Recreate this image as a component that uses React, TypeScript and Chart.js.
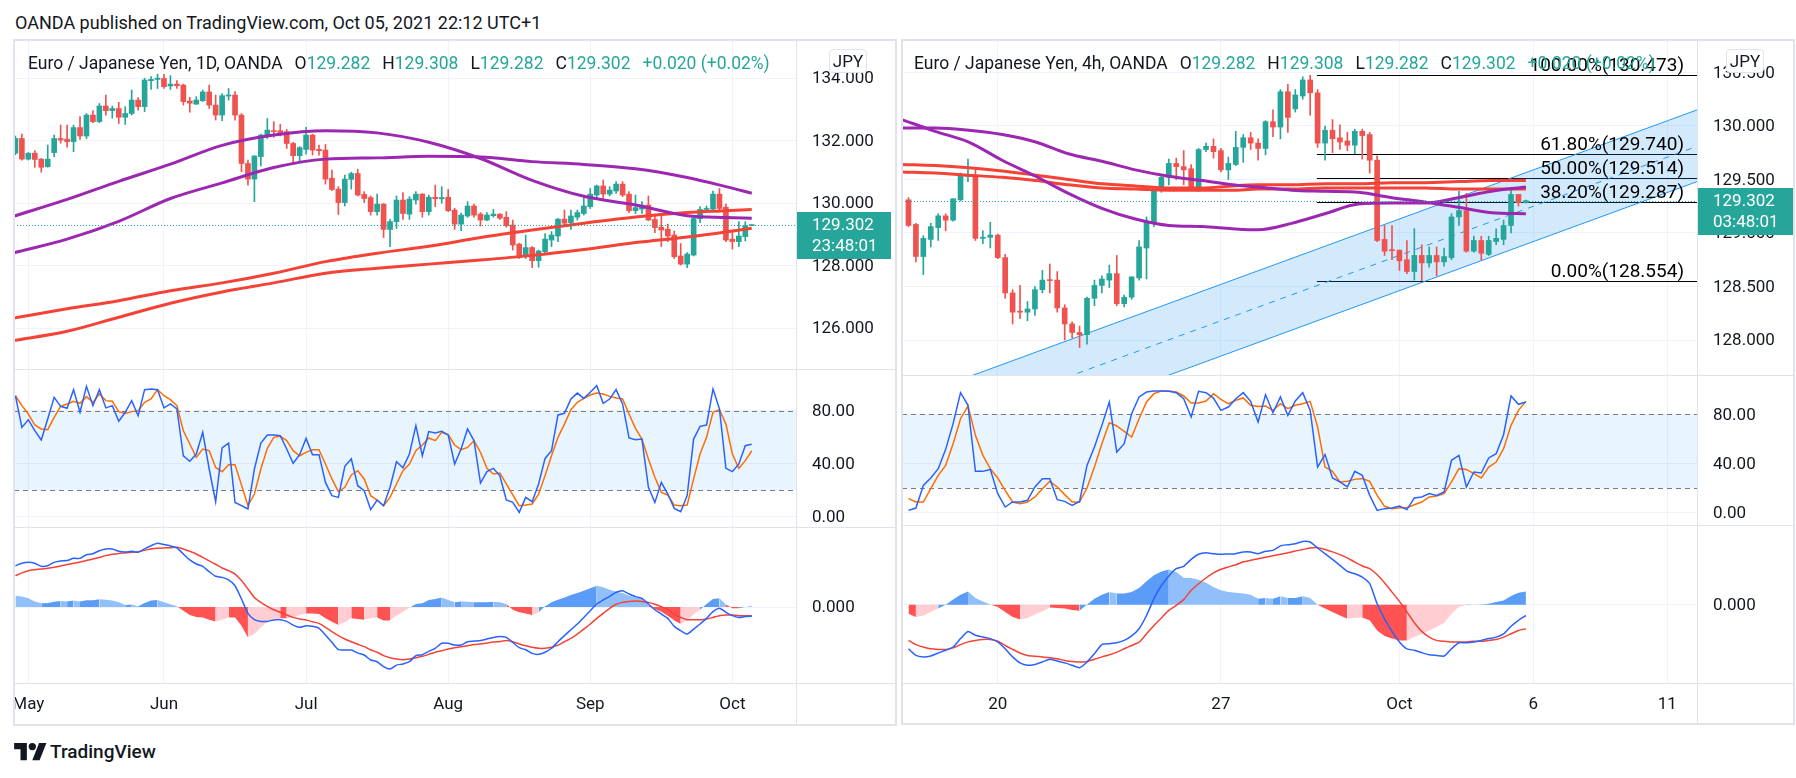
import React, { useEffect, useRef } from "react";
import { Chart, registerables } from "chart.js";

Chart.register(...registerables);

const FONT = "Roboto, 'Noto Sans', 'DejaVu Sans', sans-serif";
const TEXT = "#131722";
const UP = "#26a69a";
const DOWN = "#ef5350";
const GRID = "#f0f3fa";
const FRAME = "#e0e3eb";
const PURPLE = "#9c27b0";
const MA_RED = "#f44336";
const K_BLUE = "#2962ff";
const D_ORANGE = "#ff6d00";
const SIG_RED = "#f44336";
const HIST_UP_STRONG = "#5b9cf6";
const HIST_UP_WEAK = "#90bff9";
const HIST_DN_STRONG = "#ff5252";
const HIST_DN_WEAK = "#ffcdd2";

// ---------------- Daily (1D) data ----------------
const dailyTickIdx = [2, 23, 45, 67, 89, 111];
const dailyTickLabels = ["May", "Jun", "Jul", "Aug", "Sep", "Oct"];
const dailyPriceTicks = [126, 128, 130, 132, 134];

const dailyOpen = [131.60,132.07,131.41,131.60,131.41,131.17,131.62,132.07,132.05,131.97,
132.42,132.15,132.82,132.61,133.11,132.96,133.03,132.75,132.87,133.30,
133.09,133.92,133.96,133.99,133.75,133.81,133.78,133.27,133.17,133.28,
133.56,133.14,132.82,133.43,133.46,132.82,131.27,130.77,131.49,132.18,
132.32,132.32,132.29,131.91,131.52,131.72,132.18,131.72,131.70,130.80,
130.45,130.02,130.76,130.95,130.28,130.18,129.73,129.97,129.16,129.41,
130.10,129.65,130.10,130.29,129.73,130.19,130.14,130.19,129.78,129.33,
129.59,129.91,129.65,129.46,129.60,129.65,129.55,129.30,128.69,128.29,
128.58,128.16,128.45,128.82,128.95,129.49,129.38,129.55,129.67,129.89,
130.26,130.55,130.29,130.39,130.61,130.29,129.76,129.81,129.94,129.48,
129.23,129.17,128.98,128.31,128.05,128.34,129.50,129.80,129.81,130.29,
129.87,128.85,128.77,128.93,129.282];
const dailyHigh = [132.15,132.21,131.62,131.68,131.43,131.86,132.18,132.50,132.50,132.50,
132.77,132.87,132.96,133.19,133.46,133.11,133.23,133.09,133.62,133.38,
134.00,134.05,134.13,134.12,134.08,133.92,133.81,133.39,133.41,133.62,
133.78,133.46,133.51,133.67,133.57,132.87,131.38,131.52,132.21,132.71,
132.61,132.52,132.36,131.95,131.81,132.43,132.21,131.86,131.88,131.06,
130.53,130.90,130.99,131.09,130.37,130.23,130.29,129.99,129.48,130.23,
130.34,130.21,130.37,130.31,130.26,130.58,130.53,130.44,129.84,129.68,
130.05,129.97,129.70,129.70,129.80,129.67,129.73,129.46,128.72,128.98,
128.61,128.50,129.03,129.09,129.51,129.78,129.78,129.78,130.18,130.47,
130.58,130.74,130.53,130.69,130.69,130.37,130.26,130.05,130.23,129.65,
129.65,129.33,129.11,128.71,128.42,129.59,129.89,129.91,130.39,130.47,
129.97,129.09,129.41,129.41,129.308];
const dailyLow = [131.55,131.38,131.38,131.15,130.99,131.15,131.49,131.92,131.79,131.65,
132.04,132.07,132.58,132.58,132.82,132.72,132.55,132.52,132.82,132.98,
132.93,133.64,133.67,133.67,133.64,133.67,133.14,132.91,133.16,133.25,
133.03,132.66,132.64,133.30,132.66,131.01,130.58,130.05,131.19,132.07,
132.11,132.15,131.75,131.24,131.31,131.57,131.54,131.54,130.61,130.40,
129.64,129.91,130.45,130.23,130.02,129.62,129.62,128.90,128.61,129.19,
129.48,129.48,129.97,129.55,129.62,129.89,130.00,129.73,129.16,129.12,
129.55,129.55,129.27,129.44,129.55,129.48,129.23,128.50,128.23,128.23,
127.94,127.95,128.37,128.61,128.77,129.30,129.16,129.46,129.62,129.83,
130.15,130.15,130.23,130.31,130.21,129.70,129.67,129.67,129.44,129.06,
128.61,128.77,128.23,128.02,127.94,128.31,129.38,129.70,129.78,129.78,
128.77,128.53,128.61,128.79,129.282];
const dailyClose = [132.07,131.41,131.60,131.40,131.15,131.41,132.07,132.02,131.97,132.42,
132.15,132.82,132.61,133.11,132.96,133.03,132.75,132.87,133.30,133.09,
133.94,133.96,134.00,133.73,133.81,133.76,133.25,133.20,133.30,133.56,
133.14,132.82,133.44,133.46,132.82,131.27,130.77,131.51,132.18,132.34,
132.29,132.26,131.91,131.52,131.78,132.18,131.70,131.68,130.77,130.44,
130.02,130.77,130.95,130.26,130.15,129.73,129.97,129.16,129.41,130.10,
129.67,130.13,130.29,129.73,130.19,130.14,130.18,129.76,129.33,129.62,
129.91,129.62,129.46,129.62,129.65,129.52,129.28,128.66,128.29,128.58,
128.16,128.47,128.85,128.98,129.49,129.36,129.59,129.70,129.91,130.29,
130.55,130.29,130.42,130.61,130.26,129.76,129.86,129.94,129.46,129.22,
129.14,128.95,128.29,128.05,128.37,129.51,129.80,129.83,130.29,129.83,
128.82,128.77,128.95,129.282,129.302];

const dailyMaIdx = [-0.3, 8, 16, 24, 32, 40, 48, 56, 64, 72, 80, 88, 96, 104, 110, 114];
const dailyMaPurpleA = [129.58,130.12,130.70,131.25,131.85,132.18,132.32,132.25,131.95,131.43,130.73,130.22,129.94,129.60,129.54,129.52];
const dailyMaPurpleB = [128.41,128.85,129.42,130.15,130.65,131.14,131.41,131.45,131.50,131.48,131.33,131.24,131.10,130.82,130.53,130.32];
const dailyMaRedA = [126.32,126.62,126.88,127.20,127.45,127.76,128.13,128.40,128.62,128.90,129.14,129.36,129.56,129.70,129.76,129.80];
const dailyMaRedB = [125.60,125.90,126.35,126.80,127.16,127.45,127.76,127.92,128.05,128.18,128.33,128.52,128.74,128.92,129.08,129.20];

const dailyStochK = [91.3,67.4,73.2,64.9,57.9,73.7,90.1,83.3,81.8,95.9,
78.8,98.4,83.8,95.9,82.1,83.8,72.0,78.8,87.6,76.2,
95.9,96.4,95.9,82.1,85.1,81.3,46.0,41.8,47.3,63.7,
36.0,11.3,51.9,55.6,10.8,8.3,5.8,36.0,55.6,61.7,
61.7,61.2,51.1,40.3,46.8,59.1,46.8,46.8,25.9,15.9,
14.6,38.0,43.6,23.4,19.6,5.3,12.6,8.3,22.2,41.5,
37.0,47.3,68.7,46.0,64.2,63.2,64.4,61.7,39.8,51.1,
66.2,57.4,25.4,34.0,36.5,30.9,12.6,10.8,3.3,14.6,
11.3,24.7,44.0,49.8,76.8,78.0,88.8,93.3,89.3,93.9,
98.9,85.6,88.8,95.9,85.1,59.4,58.1,58.6,22.2,10.8,
25.9,17.1,6.3,3.8,15.9,58.6,68.2,69.2,96.4,81.3,
36.5,34.0,39.8,53.6,54.6];
const dailyStochD = [91.3,83.8,77.5,69.2,66.2,65.7,75.0,83.3,85.1,87.1,
85.6,90.6,86.3,92.6,87.6,87.1,79.3,78.0,79.3,80.0,
86.3,88.8,95.9,91.3,88.3,83.8,64.9,54.9,44.8,51.1,
49.8,37.2,34.0,39.3,39.3,23.9,8.3,17.1,36.0,51.6,
59.9,60.7,57.4,49.8,46.0,48.6,50.6,50.6,39.8,28.5,
18.9,22.2,31.5,34.7,28.5,15.9,12.6,8.3,14.6,24.7,
34.7,39.8,49.8,54.1,59.4,57.4,63.7,61.9,54.1,50.6,
52.3,57.4,48.6,36.5,32.2,33.0,24.7,16.4,8.3,8.8,
9.6,17.1,31.0,46.0,59.9,69.9,80.8,86.3,89.3,91.8,
93.3,92.6,90.8,89.6,88.8,77.5,66.7,58.6,43.5,29.7,
18.4,16.4,8.8,8.3,8.8,28.5,47.3,59.9,78.8,80.8,
69.9,47.3,36.5,42.3,49.8];

const dailyMacd = [0.258,0.273,0.279,0.273,0.254,0.258,0.279,0.288,0.290,0.304,
0.304,0.327,0.333,0.352,0.363,0.363,0.348,0.344,0.348,0.342,
0.363,0.383,0.398,0.390,0.381,0.369,0.331,0.294,0.269,0.254,
0.221,0.192,0.185,0.169,0.133,0.050,-0.040,-0.079,-0.090,-0.090,
-0.081,-0.079,-0.090,-0.113,-0.127,-0.117,-0.121,-0.133,-0.175,-0.221,
-0.267,-0.269,-0.269,-0.288,-0.300,-0.331,-0.342,-0.373,-0.388,-0.363,
-0.356,-0.342,-0.304,-0.298,-0.277,-0.258,-0.227,-0.227,-0.238,-0.238,
-0.217,-0.213,-0.210,-0.200,-0.190,-0.185,-0.190,-0.221,-0.254,-0.267,
-0.290,-0.296,-0.283,-0.258,-0.217,-0.179,-0.142,-0.106,-0.065,-0.023,
0.019,0.044,0.067,0.092,0.102,0.081,0.065,0.054,0.019,-0.017,
-0.044,-0.071,-0.121,-0.148,-0.169,-0.138,-0.106,-0.071,-0.029,-0.008,
-0.033,-0.054,-0.065,-0.060,-0.058];
const dailySignal = [0.196,0.213,0.227,0.233,0.238,0.242,0.248,0.256,0.265,0.273,
0.281,0.290,0.300,0.310,0.321,0.329,0.335,0.338,0.342,0.346,
0.354,0.363,0.367,0.369,0.371,0.373,0.363,0.348,0.331,0.310,
0.288,0.267,0.244,0.227,0.206,0.165,0.113,0.060,0.029,0.004,
-0.017,-0.033,-0.050,-0.065,-0.075,-0.081,-0.092,-0.102,-0.127,-0.154,
-0.179,-0.200,-0.217,-0.233,-0.248,-0.267,-0.283,-0.304,-0.317,-0.325,
-0.329,-0.325,-0.317,-0.308,-0.296,-0.283,-0.273,-0.263,-0.254,-0.248,
-0.242,-0.235,-0.231,-0.225,-0.219,-0.215,-0.210,-0.217,-0.231,-0.242,
-0.252,-0.258,-0.258,-0.252,-0.238,-0.217,-0.196,-0.169,-0.138,-0.106,
-0.071,-0.040,-0.008,0.017,0.029,0.035,0.038,0.035,0.029,0.017,
0.002,-0.017,-0.044,-0.065,-0.079,-0.079,-0.079,-0.075,-0.065,-0.054,
-0.050,-0.050,-0.054,-0.054,-0.054];
const dailyHist = [0.071,0.065,0.054,0.035,0.023,0.025,0.033,0.038,0.035,0.040,
0.035,0.042,0.042,0.048,0.046,0.040,0.029,0.013,0.015,0.004,
0.025,0.040,0.044,0.029,0.017,0.004,-0.023,-0.050,-0.063,-0.065,
-0.079,-0.090,-0.079,-0.065,-0.065,-0.117,-0.190,-0.169,-0.127,-0.092,
-0.075,-0.071,-0.071,-0.065,-0.050,-0.040,-0.040,-0.044,-0.071,-0.092,
-0.113,-0.096,-0.071,-0.075,-0.079,-0.071,-0.065,-0.085,-0.085,-0.054,
-0.029,-0.004,0.019,0.023,0.044,0.050,0.060,0.044,0.029,0.035,
0.033,0.029,0.029,0.029,0.033,0.029,0.019,-0.017,-0.033,-0.040,
-0.050,-0.033,0.004,0.029,0.046,0.060,0.075,0.088,0.102,0.117,
0.133,0.123,0.108,0.096,0.088,0.071,0.060,0.050,0.019,-0.013,
-0.029,-0.054,-0.085,-0.106,-0.085,-0.044,-0.017,0.019,0.050,0.054,
0.015,-0.008,-0.008,0.000,0.004];

// ---------------- 4h data ----------------
const h4TickIdx = [12, 42, 66, 84, 102];
const h4TickLabels = ["20", "27", "Oct", "6", "11"];
const h4PriceTicks = [128, 128.5, 129, 129.5, 130, 130.5];

const h4Open = [129.31,129.08,128.78,128.94,129.05,129.16,129.12,129.31,129.53,129.54,
128.95,128.96,128.98,128.77,128.44,128.27,128.26,128.29,128.47,128.56,
128.56,128.30,128.15,128.07,128.05,128.39,128.51,128.56,128.62,128.34,
128.40,128.58,128.86,129.10,129.40,129.52,129.65,129.62,129.60,129.43,
129.78,129.81,129.77,129.59,129.64,129.80,129.89,129.84,129.79,130.04,
129.99,130.32,130.16,130.28,130.43,130.31,129.84,129.96,129.89,129.86,
129.82,129.95,129.92,129.68,128.94,128.84,128.84,128.75,128.64,128.79,
128.72,128.79,128.73,128.77,129.15,129.21,128.83,128.93,128.80,128.92,
128.94,129.07,129.36,129.282];
const h4High = [129.33,129.09,128.975,129.09,129.18,129.18,129.32,129.56,129.69,129.59,
129.02,129.10,128.99,128.80,128.47,128.51,128.36,128.50,128.65,128.71,
128.64,128.33,128.17,128.13,128.40,128.56,128.60,128.70,128.79,128.42,
128.59,128.93,129.15,129.42,129.54,129.69,129.70,129.77,129.64,129.79,
129.84,129.88,129.79,129.71,129.95,129.92,129.94,129.88,130.05,130.15,
130.34,130.39,130.34,130.46,130.473,130.34,130.00,130.06,130.01,129.94,
129.97,129.97,129.94,129.72,129.07,129.07,128.84,128.93,129.04,128.89,
128.87,128.87,128.86,129.18,129.39,129.37,128.97,128.97,128.97,129.04,
129.12,129.40,129.36,129.308];
const h4Low = [129.06,128.73,128.61,128.87,128.93,129.02,129.11,129.30,129.48,128.93,
128.90,128.86,128.76,128.39,128.15,128.20,128.18,128.23,128.44,128.44,
128.26,128.00,128.02,127.93,127.96,128.32,128.44,128.49,128.32,128.31,
128.38,128.56,128.57,129.06,129.38,129.45,129.50,129.45,129.42,129.39,
129.76,129.70,129.57,129.50,129.63,129.66,129.78,129.68,129.73,129.90,
129.88,129.94,130.13,130.25,130.10,129.80,129.68,129.75,129.78,129.77,
129.74,129.69,129.56,128.92,128.79,128.75,128.65,128.62,128.56,128.554,
128.68,128.60,128.69,128.75,129.07,128.82,128.82,128.75,128.79,128.89,
128.89,129.00,129.25,129.282];
const h4Close = [129.07,128.78,128.95,129.06,129.16,129.12,129.32,129.54,129.54,128.95,
128.96,128.98,128.77,128.44,128.26,128.26,128.29,128.47,128.56,128.555,
128.30,128.15,128.07,128.05,128.39,128.51,128.57,128.62,128.34,128.40,
128.59,128.87,129.11,129.40,129.52,129.65,129.62,129.59,129.43,129.78,
129.81,129.76,129.59,129.65,129.80,129.89,129.84,129.79,130.04,129.99,
130.32,130.08,130.29,130.43,130.31,129.84,129.96,129.88,129.85,129.82,
129.95,129.91,129.68,128.93,128.83,128.835,128.74,128.64,128.79,128.72,
128.79,128.73,128.78,129.15,129.21,128.83,128.93,128.81,128.93,128.95,
129.07,129.36,129.282,129.302];

const h4MaIdx = [-0.9, 3.6, 8.1, 12.6, 17.1, 21.5, 26, 30.5, 35, 39.5, 43.5, 47, 51.5, 56, 60.5, 65, 69.4, 73.9, 78.4, 83];
const h4MaPurpleA = [130.06,129.95,129.85,129.68,129.53,129.37,129.23,129.13,129.07,129.06,129.04,129.03,129.09,129.18,129.27,129.28,129.28,129.33,129.39,129.43];
const h4MaPurpleB = [129.98,129.98,129.96,129.92,129.85,129.74,129.67,129.59,129.53,129.49,129.45,129.43,129.40,129.39,129.38,129.33,129.29,129.24,129.19,129.18];
const h4MaRedA = [129.64,129.63,129.61,129.58,129.54,129.50,129.46,129.44,129.42,129.42,129.44,129.45,129.45,129.46,129.46,129.47,129.47,129.48,129.49,129.49];
const h4MaRedB = [129.57,129.56,129.54,129.52,129.49,129.45,129.42,129.41,129.40,129.40,129.40,129.41,129.41,129.42,129.42,129.42,129.42,129.41,129.41,129.41];

const h4StochK = [1.9,3.8,22.2,28.2,35.8,51.5,72.4,97.6,87.3,33.6,
33.6,35.2,15.5,4.6,8.7,8.7,10.1,20.9,27.7,27.7,
10.6,9.2,6.0,9.2,38.5,53.4,71.0,90.0,49.3,56.1,
80.5,94.1,98.1,98.9,98.9,98.7,97.6,92.7,77.8,98.7,
97.6,93.2,83.2,85.9,92.7,97.6,90.5,73.7,95.9,81.3,
94.1,79.1,90.8,97.6,83.2,37.1,47.2,28.2,25.0,20.9,
33.6,30.4,14.1,1.9,3.3,3.8,5.4,2.5,12.0,12.8,
15.5,14.1,16.8,42.6,46.6,20.9,33.1,32.3,44.5,48.0,
63.4,94.9,88.1,90.0];
const h4StochD = [11.4,8.7,8.7,19.5,30.4,38.5,56.1,76.4,86.7,62.9,
46.6,35.8,28.2,18.2,8.7,7.3,8.7,12.8,19.5,25.5,
20.9,14.7,8.7,8.7,20.1,37.1,56.1,73.2,70.5,66.1,
61.5,76.4,90.0,96.8,98.9,98.9,98.1,94.9,89.2,89.2,
90.8,96.8,92.2,88.7,91.4,93.3,87.3,86.4,86.7,83.2,
88.6,84.6,87.3,88.6,90.5,69.7,37.1,33.6,25.0,25.5,
27.1,27.7,25.5,14.1,5.2,3.3,4.1,4.1,6.5,8.7,
12.8,13.6,15.5,25.0,35.8,35.2,31.7,28.2,37.1,41.2,
52.0,71.0,83.2,90.5];

const h4Macd = [-0.147,-0.169,-0.174,-0.171,-0.161,-0.152,-0.141,-0.113,-0.089,-0.102,
-0.108,-0.113,-0.124,-0.147,-0.174,-0.194,-0.202,-0.199,-0.191,-0.182,
-0.188,-0.194,-0.202,-0.210,-0.191,-0.163,-0.133,-0.130,-0.127,-0.119,
-0.104,-0.080,-0.036,0.020,0.064,0.096,0.120,0.128,0.151,0.168,
0.173,0.170,0.168,0.169,0.170,0.176,0.176,0.170,0.178,0.181,
0.196,0.200,0.203,0.211,0.209,0.189,0.170,0.151,0.131,0.111,
0.103,0.092,0.070,0.003,-0.047,-0.089,-0.124,-0.147,-0.152,-0.160,
-0.167,-0.169,-0.171,-0.147,-0.127,-0.127,-0.124,-0.119,-0.113,-0.108,
-0.097,-0.072,-0.052,-0.036];
const h4Signal = [-0.119,-0.133,-0.141,-0.147,-0.149,-0.149,-0.144,-0.133,-0.124,-0.119,
-0.116,-0.116,-0.122,-0.136,-0.149,-0.161,-0.169,-0.172,-0.174,-0.177,
-0.180,-0.186,-0.189,-0.191,-0.189,-0.182,-0.174,-0.167,-0.158,-0.147,
-0.136,-0.125,-0.097,-0.069,-0.044,-0.019,-0.002,0.017,0.048,0.070,
0.089,0.106,0.118,0.126,0.133,0.143,0.148,0.153,0.158,0.163,
0.168,0.173,0.179,0.184,0.189,0.190,0.184,0.176,0.167,0.156,
0.142,0.129,0.120,0.100,0.073,0.042,0.011,-0.024,-0.060,-0.089,
-0.108,-0.119,-0.122,-0.124,-0.124,-0.124,-0.122,-0.122,-0.119,-0.116,
-0.108,-0.097,-0.086,-0.080];
const h4Hist = [-0.030,-0.041,-0.036,-0.024,-0.013,0.000,0.017,0.033,0.044,0.022,
0.011,0.001,-0.008,-0.024,-0.041,-0.049,-0.044,-0.033,-0.022,-0.009,
-0.011,-0.013,-0.018,-0.020,0.001,0.020,0.033,0.042,0.037,0.037,
0.042,0.056,0.078,0.098,0.111,0.117,0.109,0.090,0.089,0.083,
0.073,0.059,0.048,0.042,0.040,0.037,0.033,0.020,0.022,0.020,
0.028,0.022,0.022,0.028,0.022,0.000,-0.013,-0.024,-0.036,-0.047,
-0.044,-0.043,-0.052,-0.086,-0.104,-0.113,-0.119,-0.119,-0.108,-0.097,
-0.086,-0.074,-0.060,-0.030,-0.006,-0.002,0.000,0.001,0.003,0.009,
0.014,0.029,0.040,0.044];

// Fibonacci retracement drawing and parallel channel (in data units)
const fibStartIdx = 54.9;
const fibPercents = ["100.00%", "61.80%", "50.00%", "38.20%", "0.00%"];
const fibPrices = [130.473, 129.740, 129.514, 129.287, 128.554];
const channelX = [0, 106];
const channelUpper = [127.45, 130.15];
const channelMid = [127.11, 129.81];
const channelLower = [126.78, 129.48];

const stochTicks = [0, 40, 80];
const stochBandHigh = 80;
const stochBandLow = 20;

// ---------------- Layout ----------------
const LP = { x0: 14, axisX: 796, x1: 895, top: 41, s1: 369, s2: 527, s3: 683, bottom: 724 };
const RP = { x0: 902, axisX: 1697, x1: 1793, top: 41, s1: 375, s2: 525, s3: 683, bottom: 723 };

function xAxis(min: number, max: number, ticks: number[], h: number) {
  return {
    type: "linear",
    min,
    max,
    offset: false,
    afterBuildTicks: (s: any) => { s.ticks = ticks.map((v) => ({ value: v })); },
    afterFit: (s: any) => { s.height = h; },
    grid: { color: GRID, drawTicks: false, offset: false, lineWidth: 1 },
    border: { display: false },
    ticks: { display: false },
  };
}

function yAxis(min: number, max: number, ticks: number[], w: number) {
  return {
    type: "linear",
    position: "right",
    min,
    max,
    beginAtZero: false,
    afterBuildTicks: (s: any) => { s.ticks = ticks.map((v) => ({ value: v })); },
    afterFit: (s: any) => { s.width = w; },
    grid: { color: GRID, drawTicks: false, lineWidth: 1 },
    border: { display: false },
    ticks: { display: false },
  };
}

// draws the tick labels of the price axis (and of the time axis when given)
function axisLabels(yTicks: number[], dec: number, xTicks?: number[], xLabels?: string[]) {
  return {
    id: "axisLabels",
    afterDraw(chart: any) {
      const { ctx, chartArea: a, scales } = chart;
      ctx.save();
      ctx.font = `17px ${FONT}`;
      ctx.fillStyle = TEXT;
      ctx.textBaseline = "middle";
      ctx.textAlign = "left";
      yTicks.forEach((v) => ctx.fillText(v.toFixed(dec), a.right + 16, scales.y.getPixelForValue(v) + 1));
      if (xTicks && xLabels) {
        ctx.textAlign = "center";
        xTicks.forEach((v, i) => ctx.fillText(xLabels[i], scales.x.getPixelForValue(v), a.bottom + 22));
      }
      ctx.restore();
    },
  };
}

const baseOptions = {
  responsive: false,
  animation: false,
  events: [],
  layout: { padding: 0, autoPadding: false },
  plugins: { legend: { display: false }, tooltip: { enabled: false } },
};

function candleDatasets(o: number[], h: number[], l: number[], c: number[], bodyW: number) {
  const colors = c.map((v, i) => (v >= o[i] ? UP : DOWN));
  return [
    {
      type: "bar",
      data: o.map((_, i) => ({ x: i, y: [l[i], h[i]] })),
      backgroundColor: colors,
      barThickness: 1,
      grouped: false,
      minBarLength: 1,
      order: 6,
    },
    {
      type: "bar",
      data: o.map((_, i) => ({ x: i, y: [o[i], c[i]] })),
      backgroundColor: colors,
      barThickness: bodyW,
      grouped: false,
      minBarLength: 1,
      order: 5,
    },
  ];
}

function maLine(xs: number[], ys: number[], color: string) {
  return {
    type: "line",
    data: xs.map((x, i) => ({ x, y: ys[i] })),
    borderColor: color,
    borderWidth: 3,
    pointRadius: 0,
    cubicInterpolationMode: "monotone",
    order: 1,
  };
}

function histColors(h: number[]) {
  return h.map((v, i) => {
    const p = i > 0 ? h[i - 1] : v;
    if (v >= 0) return v >= p ? HIST_UP_STRONG : HIST_UP_WEAK;
    return v <= p ? HIST_DN_STRONG : HIST_DN_WEAK;
  });
}

function mainOverlay(last: number, countdown: string, boxW: number, withFib: boolean) {
  return {
    id: "mainOverlay",
    beforeDatasetsDraw(chart: any) {
      if (!withFib) return;
      const { ctx, chartArea: a, scales } = chart;
      const x0 = scales.x.getPixelForValue(fibStartIdx);
      ctx.save();
      ctx.strokeStyle = "#000000";
      ctx.lineWidth = 1;
      fibPrices.forEach((p) => {
        const y = Math.round(scales.y.getPixelForValue(p)) + 0.5;
        ctx.beginPath();
        ctx.moveTo(x0, y);
        ctx.lineTo(a.right, y);
        ctx.stroke();
      });
      ctx.restore();
    },
    afterDatasetsDraw(chart: any) {
      const { ctx, chartArea: a, scales } = chart;
      const y = Math.round(scales.y.getPixelForValue(last)) + 0.5;
      ctx.save();
      ctx.strokeStyle = UP;
      ctx.lineWidth = 1;
      ctx.setLineDash([1, 2]);
      ctx.beginPath();
      ctx.moveTo(a.left, y);
      ctx.lineTo(a.right, y);
      ctx.stroke();
      ctx.setLineDash([]);
      if (withFib) {
        ctx.font = `19px ${FONT}`;
        ctx.fillStyle = "#000000";
        ctx.textAlign = "right";
        ctx.textBaseline = "alphabetic";
        fibPrices.forEach((p, i) => {
          const ly = scales.y.getPixelForValue(p);
          ctx.fillText(`${fibPercents[i]}(${p.toFixed(3)})`, a.right - 13, ly - 4);
        });
      }
      ctx.restore();
    },
    afterDraw(chart: any) {
      const { ctx, chartArea: a, scales } = chart;
      const y = scales.y.getPixelForValue(last);
      ctx.save();
      ctx.fillStyle = UP;
      ctx.fillRect(a.right, Math.round(y - 13), boxW, 47);
      ctx.fillStyle = "#ffffff";
      ctx.font = `17px ${FONT}`;
      ctx.textAlign = "left";
      ctx.textBaseline = "middle";
      ctx.fillText(last.toFixed(3), a.right + 16, y + 1);
      ctx.fillText(countdown, a.right + 16, y + 22);
      ctx.restore();
    },
  };
}

const stochBand = {
  id: "stochBand",
  beforeDatasetsDraw(chart: any) {
    const { ctx, chartArea: a, scales } = chart;
    const yH = scales.y.getPixelForValue(stochBandHigh);
    const yL = scales.y.getPixelForValue(stochBandLow);
    ctx.save();
    ctx.fillStyle = "rgba(33,150,243,0.1)";
    ctx.fillRect(a.left, yH, a.width, yL - yH);
    ctx.strokeStyle = "#787b86";
    ctx.lineWidth = 1;
    ctx.setLineDash([5, 4]);
    [yH, yL].forEach((yy) => {
      const y = Math.round(yy) + 0.5;
      ctx.beginPath();
      ctx.moveTo(a.left, y);
      ctx.lineTo(a.right, y);
      ctx.stroke();
    });
    ctx.restore();
  },
};

function stochConfig(k: number[], d: number[], xr: number[], ticks: number[], yr: number[], w: number) {
  return {
    type: "line",
    data: {
      datasets: [
        { data: d.map((y, i) => ({ x: i, y })), borderColor: D_ORANGE, borderWidth: 1.5, pointRadius: 0, tension: 0, order: 2 },
        { data: k.map((y, i) => ({ x: i, y })), borderColor: K_BLUE, borderWidth: 1.5, pointRadius: 0, tension: 0, order: 1 },
      ],
    },
    options: {
      ...baseOptions,
      scales: {
        x: xAxis(xr[0], xr[1], ticks, 0),
        y: yAxis(yr[0], yr[1], stochTicks, w),
      },
    },
    plugins: [stochBand, axisLabels(stochTicks, 2)],
  };
}

function macdConfig(m: number[], s: number[], h: number[], xr: number[], ticks: number[], labels: string[], yr: number[], w: number, axisH: number) {
  const colors = histColors(h);
  return {
    type: "line",
    data: {
      datasets: [
        {
          // MACD histogram, drawn as a filled area with a colour per step
          data: h.map((y, i) => ({ x: i, y })),
          borderWidth: 0,
          borderColor: "rgba(0,0,0,0)",
          pointRadius: 0,
          tension: 0,
          fill: "origin",
          backgroundColor: HIST_UP_WEAK,
          segment: { backgroundColor: (c: any) => colors[c.p1DataIndex] },
          order: 3,
        },
        { data: s.map((y, i) => ({ x: i, y })), borderColor: SIG_RED, borderWidth: 1.5, pointRadius: 0, tension: 0.2, fill: false, order: 2 },
        { data: m.map((y, i) => ({ x: i, y })), borderColor: K_BLUE, borderWidth: 1.5, pointRadius: 0, tension: 0.2, fill: false, order: 1 },
      ],
    },
    options: {
      ...baseOptions,
      scales: {
        x: xAxis(xr[0], xr[1], ticks, axisH),
        y: yAxis(yr[0], yr[1], [0], w),
      },
    },
    plugins: [axisLabels([0], 3, ticks, labels)],
  };
}

function dailyMainConfig() {
  const last = dailyClose[dailyClose.length - 1];
  return {
    type: "bar",
    data: {
      datasets: [
        ...candleDatasets(dailyOpen, dailyHigh, dailyLow, dailyClose, 5),
        maLine(dailyMaIdx, dailyMaPurpleA, PURPLE),
        maLine(dailyMaIdx, dailyMaPurpleB, PURPLE),
        maLine(dailyMaIdx, dailyMaRedA, MA_RED),
        maLine(dailyMaIdx, dailyMaRedB, MA_RED),
      ],
    },
    options: {
      ...baseOptions,
      scales: {
        x: xAxis(-0.22, 120.85, dailyTickIdx, 0),
        y: yAxis(124.694, 135.19, dailyPriceTicks, LP.x1 - LP.axisX),
      },
    },
    plugins: [axisLabels(dailyPriceTicks, 3), mainOverlay(last, "23:48:01", 95, false)],
  };
}

function h4MainConfig() {
  const last = h4Close[h4Close.length - 1];
  const chan = (ys: number[]) => channelX.map((x, i) => ({ x, y: ys[i] }));
  return {
    type: "bar",
    data: {
      datasets: [
        { type: "line", data: chan(channelUpper), borderColor: "#2196f3", borderWidth: 1, pointRadius: 0, fill: "+1", backgroundColor: "rgba(33,150,243,0.2)", order: 10 },
        { type: "line", data: chan(channelLower), borderColor: "#2196f3", borderWidth: 1, pointRadius: 0, fill: false, order: 9 },
        { type: "line", data: chan(channelMid), borderColor: "#2196f3", borderWidth: 1, borderDash: [6, 6], pointRadius: 0, fill: false, order: 8 },
        ...candleDatasets(h4Open, h4High, h4Low, h4Close, 5),
        maLine(h4MaIdx, h4MaPurpleA, PURPLE),
        maLine(h4MaIdx, h4MaPurpleB, PURPLE),
        maLine(h4MaIdx, h4MaRedA, MA_RED),
        maLine(h4MaIdx, h4MaRedB, MA_RED),
      ],
    },
    options: {
      ...baseOptions,
      scales: {
        x: xAxis(-0.87, 106.0, h4TickIdx, 0),
        y: yAxis(127.673, 130.794, h4PriceTicks, RP.x1 - RP.axisX),
      },
    },
    plugins: [axisLabels(h4PriceTicks, 3), mainOverlay(last, "03:48:01", 96, true)],
  };
}

function ChartCanvas({ left, top, width, height, build }: any) {
  const ref = useRef<HTMLCanvasElement | null>(null);
  useEffect(() => {
    const chart = new Chart(ref.current as any, build());
    return () => chart.destroy();
  }, []);
  return (
    <canvas
      ref={ref}
      width={width}
      height={height}
      style={{ position: "absolute", left, top, width, height, display: "block" }}
    />
  );
}

function Line({ x, y, w, h, c = FRAME }: any) {
  return <div style={{ position: "absolute", left: x, top: y, width: w, height: h, background: c }} />;
}

function Frame({ p }: any) {
  const w = p.x1 - p.x0 + 2;
  return (
    <>
      <Line x={p.x0 - 1} y={p.top - 2} w={w} h={2} />
      <Line x={p.x0 - 1} y={p.bottom} w={w} h={2} />
      <Line x={p.x0 - 1} y={p.top - 2} w={2} h={p.bottom - p.top + 4} />
      <Line x={p.x1} y={p.top - 2} w={2} h={p.bottom - p.top + 4} />
      <Line x={p.axisX} y={p.top} w={1} h={p.bottom - p.top} />
      <Line x={p.x0} y={p.s1} w={p.x1 - p.x0} h={1} />
      <Line x={p.x0} y={p.s2} w={p.x1 - p.x0} h={1} />
      <Line x={p.x0} y={p.s3} w={p.x1 - p.x0} h={1} />
    </>
  );
}

function Legend({ left, tf, o, h, l, c }: any) {
  const last = c[c.length - 1];
  const prev = c[c.length - 2];
  const chg = last - prev;
  const pct = (chg / prev) * 100;
  const sign = chg >= 0 ? "+" : "";
  const item = (k: string, v: number) => (
    <span style={{ marginLeft: 12 }}>
      {k}
      <span style={{ color: UP }}>{v.toFixed(3)}</span>
    </span>
  );
  return (
    <div style={{ position: "absolute", left, top: 52, fontSize: 17.5, lineHeight: "22px", whiteSpace: "nowrap", color: TEXT }}>
      {`Euro / Japanese Yen, ${tf}, OANDA`}
      {item("O", o[o.length - 1])}
      {item("H", h[h.length - 1])}
      {item("L", l[l.length - 1])}
      {item("C", last)}
      <span style={{ marginLeft: 12, color: UP }}>{`${sign}${chg.toFixed(3)} (${sign}${pct.toFixed(2)}%)`}</span>
    </div>
  );
}

function JpyBox({ left }: any) {
  return (
    <div
      style={{
        position: "absolute", left, top: 49, width: 36, height: 22,
        border: `1px solid ${FRAME}`, borderRadius: 4, background: "#fff",
        fontSize: 17, lineHeight: "22px", textAlign: "center", color: TEXT,
      }}
    >
      JPY
    </div>
  );
}

export default function App() {
  return (
    <div
      style={{
        position: "absolute", left: 0, top: 0, width: 1796, height: 778,
        background: "#ffffff", fontFamily: FONT, color: TEXT, overflow: "hidden",
      }}
    >
      <div style={{ position: "absolute", left: 15, top: 11, fontSize: 18, lineHeight: "24px", whiteSpace: "nowrap" }}>
        OANDA published on TradingView.com, Oct 05, 2021 22:12 UTC+1
      </div>

      {/* Left panel (1D) */}
      <ChartCanvas left={LP.x0} top={LP.top} width={LP.x1 - LP.x0} height={LP.s1 - LP.top} build={dailyMainConfig} />
      <ChartCanvas
        left={LP.x0} top={LP.s1} width={LP.x1 - LP.x0} height={LP.s2 - LP.s1}
        build={() => stochConfig(dailyStochK, dailyStochD, [-0.22, 120.85], dailyTickIdx, [-7.77, 111.47], LP.x1 - LP.axisX)}
      />
      <ChartCanvas
        left={LP.x0} top={LP.s2} width={LP.x1 - LP.x0} height={LP.bottom - LP.s2}
        build={() => macdConfig(dailyMacd, dailySignal, dailyHist, [-0.22, 120.85], dailyTickIdx, dailyTickLabels, [-0.475, 0.5], LP.x1 - LP.axisX, LP.bottom - LP.s3)}
      />

      {/* Right panel (4h) */}
      <ChartCanvas left={RP.x0} top={RP.top} width={RP.x1 - RP.x0} height={RP.s1 - RP.top} build={h4MainConfig} />
      <ChartCanvas
        left={RP.x0} top={RP.s1} width={RP.x1 - RP.x0} height={RP.s2 - RP.s1}
        build={() => stochConfig(h4StochK, h4StochD, [-0.87, 106.0], h4TickIdx, [-10.0, 111.95], RP.x1 - RP.axisX)}
      />
      <ChartCanvas
        left={RP.x0} top={RP.s2} width={RP.x1 - RP.x0} height={RP.bottom - RP.s2}
        build={() => macdConfig(h4Macd, h4Signal, h4Hist, [-0.87, 106.0], h4TickIdx, h4TickLabels, [-0.261, 0.2657], RP.x1 - RP.axisX, RP.bottom - RP.s3)}
      />

      <Frame p={LP} />
      <Frame p={RP} />

      <Legend left={28} tf="1D" o={dailyOpen} h={dailyHigh} l={dailyLow} c={dailyClose} />
      <Legend left={914} tf="4h" o={h4Open} h={h4High} l={h4Low} c={h4Close} />
      <JpyBox left={829} />
      <JpyBox left={1726} />

      <svg style={{ position: "absolute", left: 14, top: 742 }} width={33} height={20} viewBox="0 0 36 22">
        <path d="M14 20H7V8H0V1h14v19z" fill={TEXT} />
        <circle cx="20" cy="5" r="4" fill={TEXT} />
        <path d="M28 20h-8l7.5-19h8L28 20z" fill={TEXT} />
      </svg>
      <div style={{ position: "absolute", left: 50, top: 740, fontSize: 19, lineHeight: "24px", fontWeight: 500, color: TEXT }}>
        TradingView
      </div>
    </div>
  );
}
